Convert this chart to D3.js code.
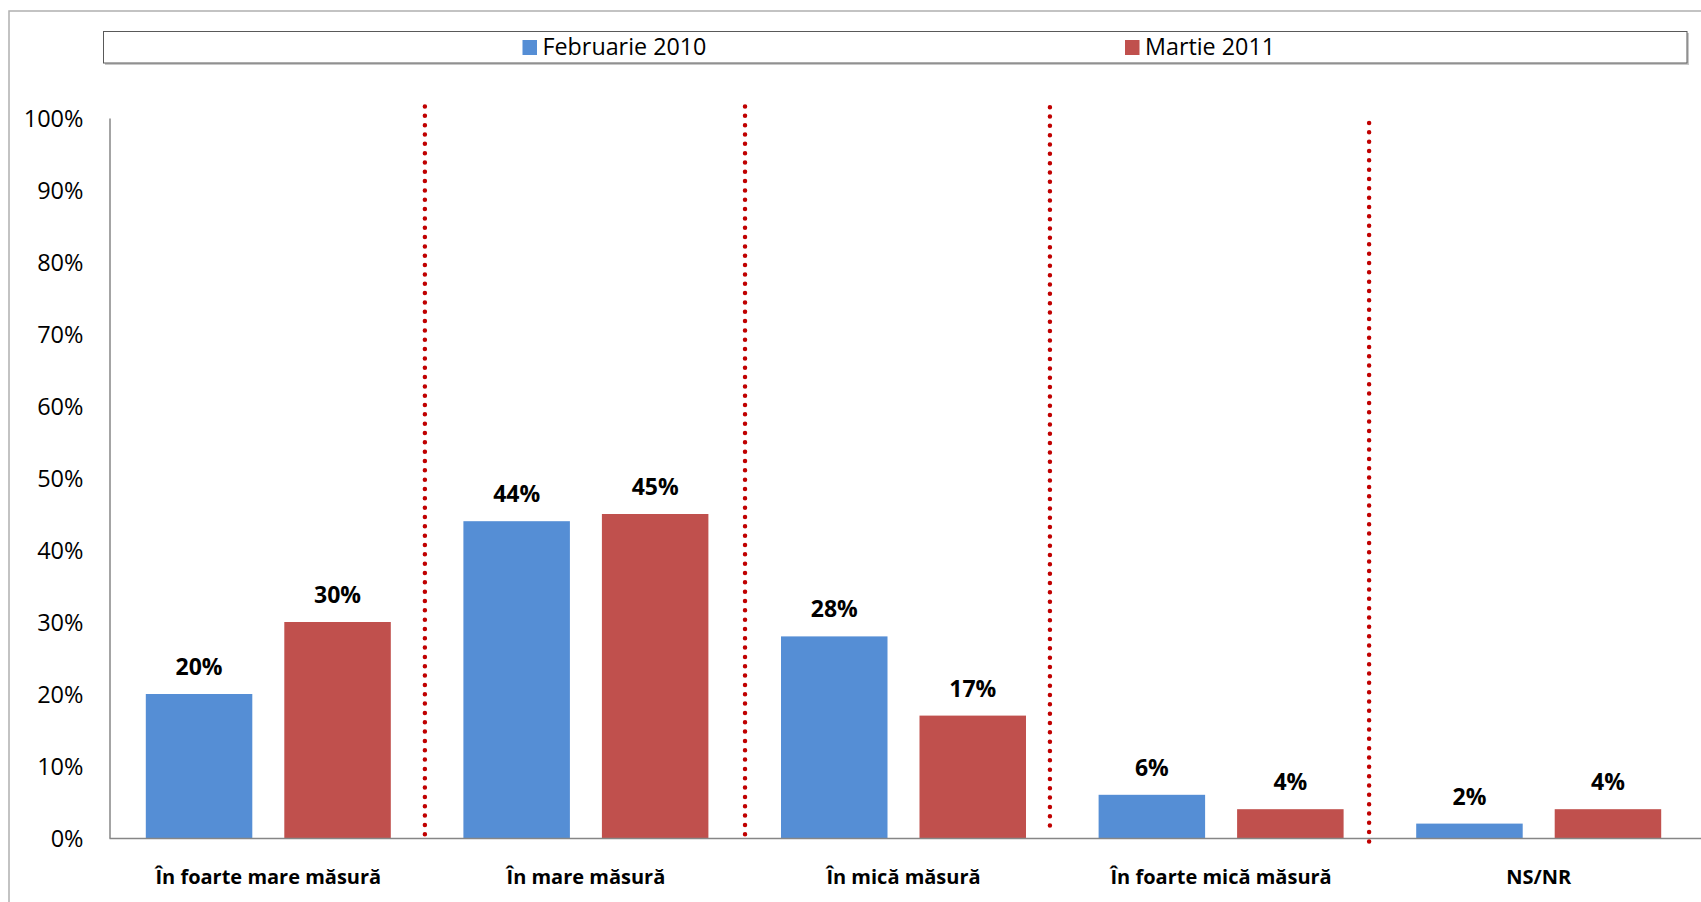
<!DOCTYPE html>
<html>
<head>
<meta charset="utf-8">
<script src="https://cdn.jsdelivr.net/npm/d3@7"></script>
<style>
  html, body { margin: 0; padding: 0; background: #fff; }
  svg { display: block; font-family: "Open Sans", "Liberation Sans", sans-serif; }
</style>
</head>
<body>
<svg id="chart" width="1701" height="902"></svg>
<script>
// ---- data ----
const categories = ["În foarte mare măsură", "În mare măsură", "În mică măsură", "În foarte mică măsură", "NS/NR"];
const seriesNames = ["Februarie 2010", "Martie 2011"];
const feb2010 = [20, 44, 28, 6, 2];
const mar2011 = [30, 45, 17, 4, 4];
const yTicks = [0, 10, 20, 30, 40, 50, 60, 70, 80, 90, 100];
// separator lines: position in category units, top and bottom in % units
const sepPos = [0.993, 2.001, 2.961, 3.966];
const sepTop = [101.6, 101.6, 101.5, 99.3];
const sepBottom = [0.4, 0.4, 1.7, -0.65];

const colors = ["#558ED5", "#C0504D"];
const seriesValues = [feb2010, mar2011];

// ---- layout ----
const svg = d3.select("#chart");
const plotLeft = 109.5, plotRight = 1697.5, plotTop = 118, plotBottom = 838;

// outer frame
svg.append("rect").attr("x", 9).attr("y", 11).attr("width", 1720).attr("height", 920)
  .attr("fill", "none").attr("stroke", "#B0B0B0").attr("stroke-width", 1.5);

// legend
const lg = svg.append("g");
lg.append("rect").attr("x", 105).attr("y", 33).attr("width", 1584).attr("height", 32)
  .attr("fill", "#C8C8C8");
lg.append("rect").attr("x", 103.5).attr("y", 31.5).attr("width", 1583.5).attr("height", 31.5)
  .attr("fill", "#fff").attr("stroke", "#595959").attr("stroke-width", 1);
const legendX = [522.5, 1125];
seriesNames.forEach((name, i) => {
  lg.append("rect").attr("x", legendX[i]).attr("y", 40).attr("width", 14.5).attr("height", 15)
    .attr("fill", colors[i]);
  lg.append("text").attr("x", legendX[i] + 20).attr("y", 55)
    .attr("font-size", 23.3).attr("fill", "#000").text(name);
});

// scales
const x0 = d3.scaleBand().domain(categories).range([plotLeft, plotRight]).padding(0);
const outerPad = 36.3;
const x1 = d3.scaleBand().domain(seriesNames)
  .range([outerPad, x0.bandwidth() - outerPad]).paddingInner(32 / 138.5);
const y = d3.scaleLinear().domain([0, 100]).range([plotBottom, plotTop]);
const xc = d3.scaleLinear().domain([0, categories.length]).range([plotLeft, plotRight]);

// y axis
const yAxis = svg.append("g").attr("transform", `translate(${plotLeft},0)`)
  .call(d3.axisLeft(y).tickValues(yTicks).tickSize(0).tickPadding(26).tickFormat(d => d + "%"));
yAxis.select(".domain").attr("stroke", "#868686").attr("stroke-width", 1.5);
yAxis.selectAll("text").attr("font-size", 23.5).attr("fill", "#000")
  .attr("font-family", "'Open Sans', sans-serif").attr("dy", "0.36em");

// bars
const groups = svg.append("g").selectAll("g").data(categories).join("g")
  .attr("transform", d => `translate(${x0(d)},0)`);
groups.selectAll("rect")
  .data((d, ci) => seriesNames.map((s, si) => ({ s, si, v: seriesValues[si][ci] })))
  .join("rect")
  .attr("x", d => x1(d.s)).attr("width", x1.bandwidth())
  .attr("y", d => y(d.v)).attr("height", d => y(0) - y(d.v))
  .attr("fill", d => colors[d.si]);
groups.selectAll("text.lbl")
  .data((d, ci) => seriesNames.map((s, si) => ({ s, si, v: seriesValues[si][ci] })))
  .join("text").attr("class", "lbl")
  .attr("x", d => x1(d.s) + x1.bandwidth() / 2).attr("y", d => y(d.v) - 19)
  .attr("text-anchor", "middle").attr("font-weight", "bold").attr("font-size", 23)
  .attr("fill", "#000").text(d => d.v + "%");

// x axis line
const xAxis = svg.append("g").attr("transform", `translate(0,${plotBottom})`)
  .call(d3.axisBottom(x0).tickSize(0).tickPadding(0).tickSizeOuter(0));
xAxis.select(".domain").attr("stroke", "#868686").attr("stroke-width", 1.5)
  .attr("d", `M${plotLeft},0.5H1701`);
xAxis.selectAll("text").attr("font-size", 20).attr("font-weight", "bold").attr("fill", "#000")
  .attr("font-family", "'Open Sans', sans-serif").attr("y", 45.5).attr("dy", 0);

// separators
svg.append("g").selectAll("line").data(sepPos).join("line")
  .attr("x1", d => xc(d)).attr("x2", d => xc(d))
  .attr("y1", (d, i) => y(sepTop[i])).attr("y2", (d, i) => y(sepBottom[i]))
  .attr("stroke", "#C00000").attr("stroke-width", 4.5)
  .attr("stroke-linecap", "round").attr("stroke-dasharray", "0 9.33");
</script>
</body>
</html>
